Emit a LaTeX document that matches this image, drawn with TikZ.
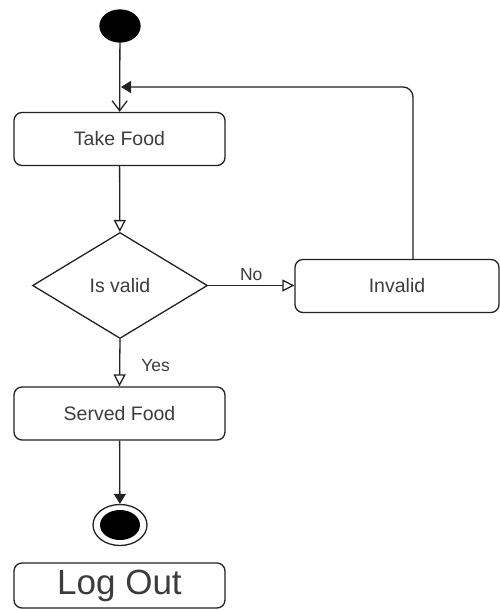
\documentclass[tikz,border=0pt]{standalone}
\usepackage{fontspec}
\setmainfont{Liberation Sans}
\usetikzlibrary{arrows.meta,shapes.geometric}
\definecolor{ink}{HTML}{222222}
\definecolor{txt}{HTML}{3C3C3C}
\begin{document}
\begin{tikzpicture}[x=1pt,y=-1pt,
  line width=1.3pt, draw=ink,
  activity/.style={draw=ink, rounded corners=8pt, minimum width=211pt,
    minimum height=53pt, inner sep=0pt, text=txt,
    font=\fontsize{19.5}{22}\selectfont},
  decision/.style={draw=ink, diamond, shape aspect=1.65, minimum width=175pt,
    minimum height=106pt, inner sep=0pt, text=txt,
    font=\fontsize{19.5}{22}\selectfont},
  initial/.style={ellipse, fill=black, draw=black, minimum width=40pt,
    minimum height=32pt, inner sep=0pt},
  lbl/.style={text=txt, font=\fontsize{17.5}{20}\selectfont, inner sep=1pt},
  openv/.style={-{Straight Barb[length=10pt,width=15pt,line width=1.3pt]}},
  opentri/.style={-{Triangle[open,length=12pt,width=12pt,line width=1.3pt]}},
  filledtri/.style={-{Triangle[length=10pt,width=12pt]}}
]
\useasboundingbox (0,0) rectangle (500,610);

% states
\node[initial] (start) at (120,26) {};
\node[activity] (take) at (119.5,139) {Take Food};
\node[decision] (valid) at (120,285.5) {Is valid};
\node[activity, minimum width=204pt] (invalid) at (397,286) {Invalid};
\node[activity] (served) at (119.5,413.5) {Served Food};

% final state: ring around a filled dot
\node[ellipse, draw=ink, minimum width=54pt, minimum height=41pt, inner sep=0pt]
  (final) at (120,525) {};
\node[ellipse, fill=black, minimum width=40pt, minimum height=30pt, inner sep=0pt]
  (finaldot) at (120,525) {};

\node[activity, minimum height=45pt, font=\fontsize{35}{38}\selectfont]
  (logout) at (119.5,585.5) {Log Out};

% flows
\coordinate (back) at (121,87);
\draw[openv] (start) -- (take);
\draw[opentri] (take) -- (valid);
\draw[opentri] (valid.east) -- node[lbl, above=3pt, pos=0.5] {No} (valid.east -| invalid.west);
\draw[opentri] (valid.south) -- node[lbl, right=20pt, pos=0.55] {Yes} (served.north);
\draw[filledtri, rounded corners=10pt] ([xshift=16pt]invalid.north) |- (back);
\draw[filledtri] (served) -- (final);
\end{tikzpicture}
\end{document}
